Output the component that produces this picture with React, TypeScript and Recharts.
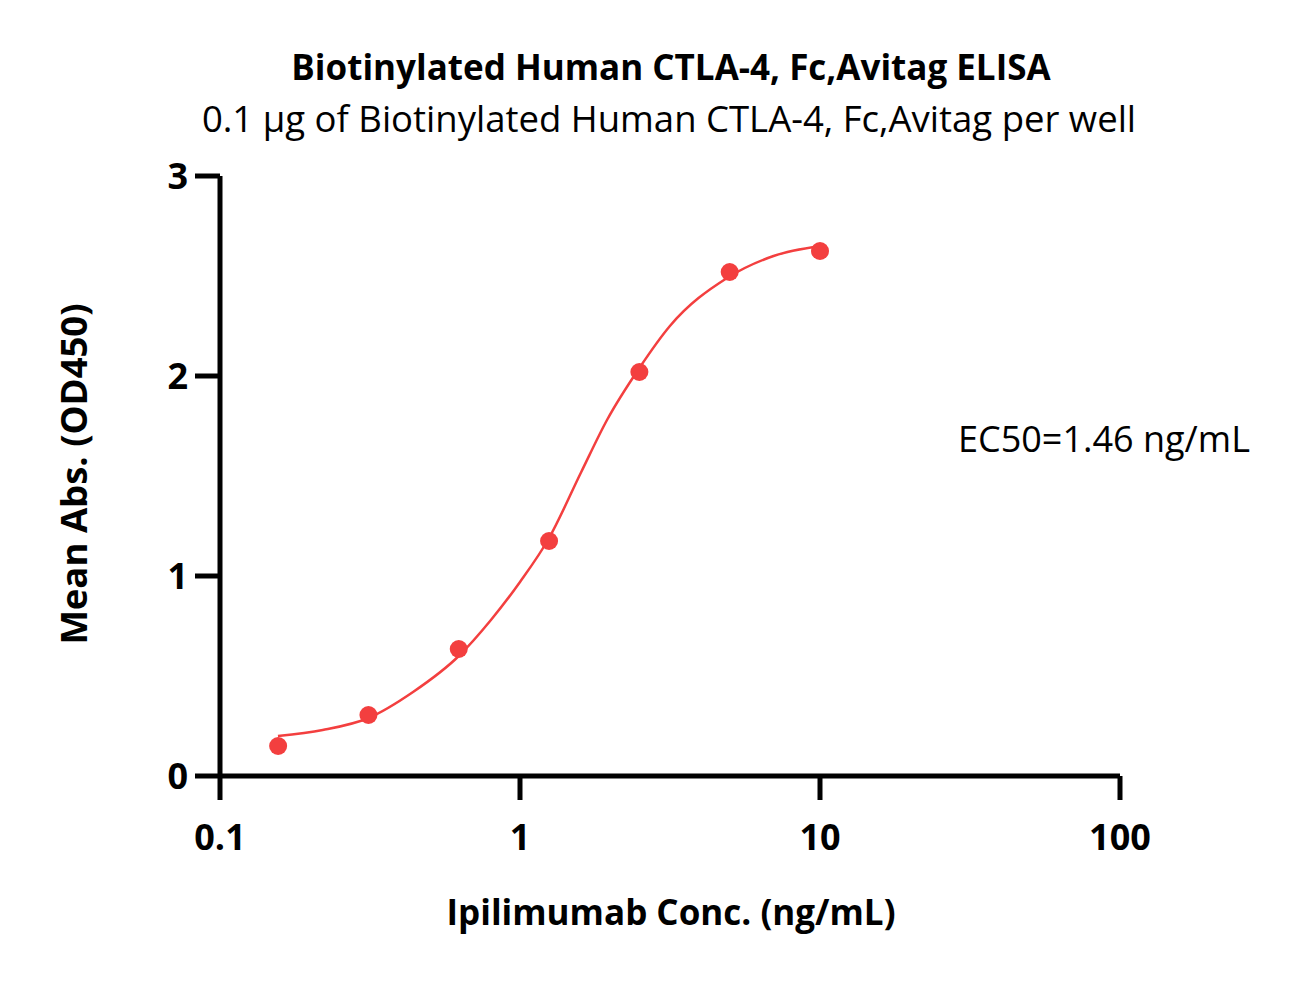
import React from 'react';
import {
  ComposedChart,
  Line,
  Scatter,
  XAxis,
  YAxis,
} from 'recharts';

// Measured points (ng/mL, OD450)
const concentrations = [0.15625, 0.3125, 0.625, 1.25, 2.5, 5, 10];
const absorbances = [0.15, 0.305, 0.635, 1.175, 2.02, 2.52, 2.625];

// Fitted curve
const fitConc = [0.156, 0.22, 0.3125, 0.44, 0.625, 0.8, 1.0, 1.25, 1.6, 1.95, 2.5, 3.16, 4.9, 7.0, 10];
const fitAbs = [0.2, 0.23, 0.29, 0.42, 0.6, 0.78, 0.97, 1.19, 1.52, 1.78, 2.04, 2.25, 2.49, 2.6, 2.65];

const xTicks = [0.1, 1, 10, 100];
const yTicks = [0, 1, 2, 3];

const RED = '#F33F3F';
const FONT = '"Open Sans", sans-serif';

const points = concentrations.map((c, i) => ({ x: c, y: absorbances[i] }));
const curve = fitConc.map((c, i) => ({ x: c, y: fitAbs[i] }));

const textStyle: React.CSSProperties = {
  position: 'absolute',
  fontFamily: FONT,
  color: '#000',
  whiteSpace: 'nowrap',
  lineHeight: 1,
};

export default function App() {
  return (
    <div style={{ position: 'absolute', left: 0, top: 0, width: 1297, height: 981, background: '#fff' }}>
      <ComposedChart
        width={1297}
        height={981}
        margin={{ top: 176, right: 177, bottom: 145, left: 160 }}
      >
        <XAxis
          dataKey="x"
          type="number"
          scale="log"
          domain={[0.1, 100]}
          ticks={xTicks}
          allowDataOverflow
          height={60}
          axisLine={{ stroke: '#000', strokeWidth: 5 }}
          tickLine={{ stroke: '#000', strokeWidth: 5 }}
          tickSize={24}
          tickMargin={24}
          tick={{ fill: '#000', fontSize: 36, fontWeight: 700, fontFamily: FONT }}
          tickFormatter={(v: number) => String(v)}
        />
        <YAxis
          dataKey="y"
          type="number"
          domain={[0, 3]}
          ticks={yTicks}
          width={60}
          axisLine={{ stroke: '#000', strokeWidth: 5 }}
          tickLine={{ stroke: '#000', strokeWidth: 5 }}
          tickSize={25}
          tickMargin={7}
          tick={{ fill: '#000', fontSize: 36, fontWeight: 700, fontFamily: FONT }}
        />
        <Line
          data={curve}
          dataKey="y"
          type="monotone"
          stroke={RED}
          strokeWidth={2.5}
          dot={false}
          activeDot={false}
          isAnimationActive={false}
        />
        <Scatter
          data={points}
          dataKey="y"
          fill={RED}
          shape={(p: any) => <circle cx={p.cx} cy={p.cy} r={9} fill={RED} />}
          isAnimationActive={false}
        />
      </ComposedChart>

      <div style={{ ...textStyle, left: 0, width: 1342, top: 49, textAlign: 'center', fontSize: 35, fontWeight: 700 }}>
        Biotinylated Human CTLA-4, Fc,Avitag ELISA
      </div>
      <div style={{ ...textStyle, left: 0, width: 1338, top: 100, textAlign: 'center', fontSize: 36.5 }}>
        0.1 μg of Biotinylated Human CTLA-4, Fc,Avitag per well
      </div>
      <div style={{ ...textStyle, left: 958, top: 421, fontSize: 36 }}>
        EC50=1.46 ng/mL
      </div>
      <div style={{ ...textStyle, left: 0, width: 1342, top: 894, textAlign: 'center', fontSize: 35, fontWeight: 700 }}>
        Ipilimumab Conc. (ng/mL)
      </div>
      <div
        style={{
          ...textStyle,
          left: 73,
          top: 474,
          fontSize: 36.5,
          fontWeight: 700,
          transform: 'translate(-50%, -50%) rotate(-90deg)',
        }}
      >
        Mean Abs. (OD450)
      </div>
    </div>
  );
}
